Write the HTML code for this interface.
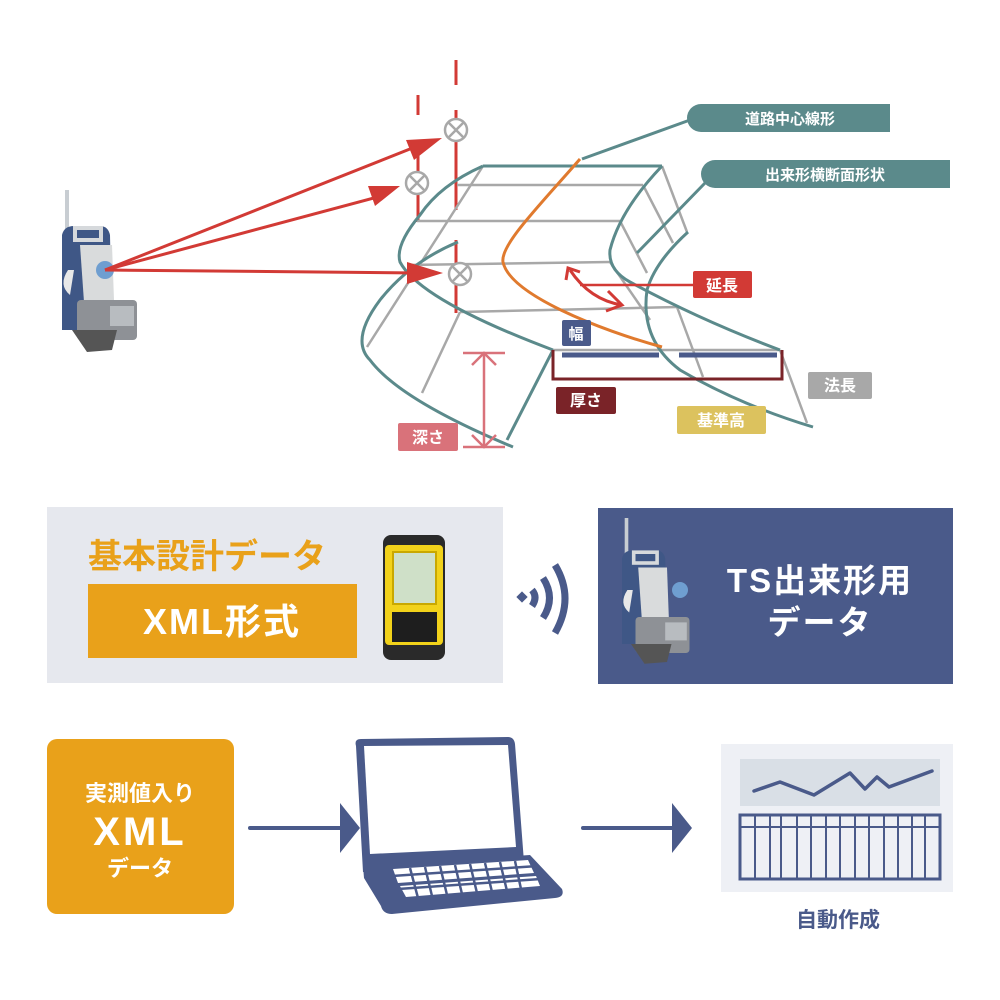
<!DOCTYPE html>
<html><head><meta charset="utf-8"><style>
html,body{margin:0;padding:0;background:#fff}
svg{display:block}
text{font-family:"Liberation Sans","Noto Sans CJK JP",sans-serif;font-weight:bold}
</style></head><body>
<svg width="1000" height="1000" viewBox="0 0 1000 1000" xmlns="http://www.w3.org/2000/svg">
<defs>
<g id="ts">
 <rect x="3" y="0" width="4" height="68" fill="#c8cdd2"/>
 <path d="M0,45 Q2,36 12,36 L38,36 Q46,36 48,45 L50,140 L0,140 Z" fill="#3f5786"/>
 <rect x="13" y="38" width="26" height="12" fill="none" stroke="#d6d9dc" stroke-width="4"/>
 <path d="M18,55 L50,55 L52,110 L22,112 Z" fill="#d9dbdc"/>
 <path d="M6,80 Q-4,95 8,105 L12,80Z" fill="#e8e8e8"/>
 <rect x="15" y="110" width="60" height="40" rx="4" fill="#8e9196"/>
 <rect x="48" y="116" width="24" height="20" fill="#b8bcc0"/>
 <path d="M10,140 L55,140 L50,160 L25,162 Z" fill="#555"/>
</g>
</defs>

<!-- instrument left -->
<g transform="translate(62,190)"><use href="#ts"/></g>
<circle cx="105" cy="270" r="9" fill="#6f9ed0"/>

<!-- red poles -->
<g stroke-width="3">
 <line x1="418" y1="95" x2="418" y2="222" stroke="#d23a35"/>
 <line x1="418" y1="115" x2="418" y2="140" stroke="#fff"/>
 <line x1="456" y1="60" x2="456" y2="313" stroke="#d23a35"/>
 <line x1="456" y1="85" x2="456" y2="110" stroke="#fff"/>
 <line x1="456" y1="210" x2="456" y2="240" stroke="#fff"/>
</g>

<!-- gray lines -->
<g stroke="#a8a8a8" stroke-width="2.5" fill="none">
 <line x1="457" y1="185" x2="643" y2="185"/>
 <line x1="417" y1="221" x2="620" y2="221"/>
 <line x1="407" y1="265" x2="610" y2="262"/>
 <line x1="460" y1="312" x2="677" y2="307"/>
 <line x1="553" y1="350" x2="780" y2="350"/>
 <line x1="483" y1="166" x2="367" y2="347"/>
 <line x1="460" y1="312" x2="422" y2="393"/>
 <line x1="662" y1="166" x2="687" y2="232"/>
 <line x1="643" y1="185" x2="673" y2="243"/>
 <line x1="620" y1="221" x2="647" y2="273"/>
 <line x1="610" y1="262" x2="650" y2="320"/>
 <line x1="677" y1="307" x2="703" y2="377"/>
 <line x1="780" y1="350" x2="807" y2="423"/>
</g>

<!-- teal curves -->
<g stroke="#5b8a8b" stroke-width="3" fill="none">
 <path d="M483,166 L662,166"/>
 <path d="M483,166 Q440,185 420,215 Q395,245 400,262 Q420,300 553,350"/>
 <path d="M458,242 Q410,262 380,300 Q350,340 370,360 Q400,400 513,447"/>
 <line x1="553" y1="350" x2="507" y2="440"/>
 <path d="M662,166 Q620,210 610,250 Q608,270 630,282 Q700,320 780,350"/>
 <path d="M688,232 Q655,262 647,290 Q640,340 680,370 Q740,405 813,427"/>
 <line x1="582" y1="159" x2="690" y2="120"/>
 <line x1="637" y1="253" x2="705" y2="183"/>
</g>
<!-- orange -->
<path d="M580,159 C540,205 500,245 503,262 C510,295 600,330 662,347" stroke="#e07a2e" stroke-width="3" fill="none"/>

<!-- targets -->
<g stroke="#a8a8a8" stroke-width="2.5" fill="#fff">
 <circle cx="456" cy="130" r="11"/><path d="M448,122 L464,138 M464,122 L448,138"/>
 <circle cx="417" cy="183" r="11"/><path d="M409,175 L425,191 M425,175 L409,191"/>
 <circle cx="460" cy="274" r="11"/><path d="M452,266 L468,282 M468,266 L452,282"/>
</g>

<!-- red rays -->
<g stroke="#d23a35" stroke-width="3" fill="#d23a35">
 <line x1="105" y1="270" x2="420" y2="145"/>
 <polygon points="442,138 406,140 414,160" stroke="none"/>
 <line x1="105" y1="270" x2="385" y2="195"/>
 <polygon points="400,186 368,186 375,206" stroke="none"/>
 <line x1="105" y1="270" x2="420" y2="273"/>
 <polygon points="443,273 407,262 407,284" stroke="none"/>
</g>

<!-- 延長 arrow -->
<path d="M570,270 Q590,300 622,305" stroke="#d23a35" stroke-width="3" fill="none"/>
<path d="M566,280 L568,268 L580,272 M608,291 L622,305 L606,311" stroke="#d23a35" stroke-width="3" fill="none"/>
<line x1="580" y1="285" x2="693" y2="285" stroke="#d23a35" stroke-width="2.5"/>

<!-- blue bars & bracket -->
<line x1="562" y1="355" x2="659" y2="355" stroke="#4a5a8a" stroke-width="5"/>
<line x1="679" y1="355" x2="777" y2="355" stroke="#4a5a8a" stroke-width="5"/>
<path d="M553,350 L553,379 L782,379 L782,350" stroke="#7a2328" stroke-width="3" fill="none"/>

<!-- depth -->
<g stroke="#d9727a" stroke-width="2.5" fill="none">
 <line x1="463" y1="353" x2="505" y2="353"/>
 <line x1="463" y1="447" x2="505" y2="447"/>
 <line x1="484" y1="353" x2="484" y2="447"/>
 <path d="M472,365 L484,353 L496,365 M472,435 L484,447 L496,435"/>
</g>

<!-- labels -->
<path d="M701,104 L890,104 L890,132 L701,132 A14,14 0 0 1 701,104Z" fill="#5b8a8b"/>
<text x="790" y="124" fill="#fff" font-size="15" text-anchor="middle">道路中心線形</text>
<path d="M715,160 L950,160 L950,188 L715,188 A14,14 0 0 1 715,160Z" fill="#5b8a8b"/>
<text x="825" y="180" fill="#fff" font-size="15" text-anchor="middle">出来形横断面形状</text>
<rect x="693" y="271" width="59" height="27" rx="2" fill="#d23a35"/>
<text x="722" y="291" fill="#fff" font-size="16" text-anchor="middle">延長</text>
<rect x="562" y="320" width="29" height="26" rx="2" fill="#4a5a8a"/>
<text x="576" y="339" fill="#fff" font-size="15" text-anchor="middle">幅</text>
<rect x="556" y="387" width="60" height="27" rx="2" fill="#7a2328"/>
<text x="586" y="406" fill="#fff" font-size="16" text-anchor="middle">厚さ</text>
<rect x="677" y="406" width="89" height="28" rx="2" fill="#dcc25e"/>
<text x="721" y="426" fill="#fff" font-size="16" text-anchor="middle">基準高</text>
<rect x="808" y="372" width="64" height="27" rx="2" fill="#a8a8a8"/>
<text x="840" y="391" fill="#fff" font-size="16" text-anchor="middle">法長</text>
<rect x="398" y="423" width="60" height="28" rx="2" fill="#d9727a"/>
<text x="428" y="443" fill="#fff" font-size="16" text-anchor="middle">深さ</text>

<!-- middle left panel -->
<rect x="47" y="507" width="456" height="176" fill="#e6e8ee"/>
<text x="88" y="568" fill="#e9a11a" font-size="34">基本設計データ</text>
<rect x="88" y="584" width="269" height="74" fill="#e9a11a"/>
<text x="222" y="634" fill="#fff" font-size="36" text-anchor="middle" letter-spacing="2">XML形式</text>
<!-- PDA -->
<rect x="383" y="535" width="62" height="125" rx="8" fill="#2a2a2a"/>
<rect x="385" y="545" width="58" height="100" rx="4" fill="#f2d21a"/>
<rect x="393" y="552" width="43" height="52" fill="#cfe0c8" stroke="#c9a800" stroke-width="2"/>
<rect x="392" y="612" width="45" height="30" fill="#1e1e1e"/>

<!-- wifi -->
<g stroke="#4a5a8a" stroke-width="7" fill="none">
 <path d="M532,590 Q538,597 532,606"/>
 <path d="M543,578 Q556,598 543,618"/>
 <path d="M555,565 Q575,598 555,633"/>
</g>
<rect x="518" y="593" width="8" height="8" fill="#4a5a8a" transform="rotate(45 522 597)"/>

<!-- middle right panel -->
<rect x="598" y="508" width="355" height="176" fill="#4a5a8a"/>
<g transform="translate(622,518) scale(0.9)"><use href="#ts"/></g>
<circle cx="680" cy="590" r="8" fill="#6f9ed0"/>
<text x="820" y="592" fill="#fff" font-size="33" text-anchor="middle" letter-spacing="2">TS出来形用</text>
<text x="820" y="634" fill="#fff" font-size="33" text-anchor="middle" letter-spacing="2">データ</text>

<!-- bottom orange -->
<rect x="47" y="739" width="187" height="175" rx="10" fill="#e9a11a"/>
<text x="140" y="801" fill="#fff" font-size="22" text-anchor="middle">実測値入り</text>
<text x="140" y="845" fill="#fff" font-size="40" text-anchor="middle" letter-spacing="3">XML</text>
<text x="140" y="876" fill="#fff" font-size="22" text-anchor="middle">データ</text>

<!-- arrows -->
<line x1="250" y1="828" x2="340" y2="828" stroke="#4a5a8a" stroke-width="4" stroke-linecap="round"/>
<polygon points="340,803 340,853 360,828" fill="#4a5a8a"/>
<line x1="583" y1="828" x2="672" y2="828" stroke="#4a5a8a" stroke-width="4" stroke-linecap="round"/>
<polygon points="672,803 672,853 692,828" fill="#4a5a8a"/>

<!-- laptop -->
<path d="M356,746 Q354,739 361,739 L508,737 Q514,737 515,744 L524,862 L363,872 Z" fill="#4a5a8a"/>
<polygon points="364,746 508,745 516,847 370,854" fill="#fff"/>
<path d="M363,866 L530,855 L562,889 Q565,897 555,898 L392,914 Q383,914 381,906 L364,878 Z" fill="#4a5a8a"/>
<g fill="#fff">
 <polygon points="393,869 528,860 534,873 398,883"/>
 <polygon points="400,886 536,876 540,886 406,897"/>
</g>
<g stroke="#4a5a8a" stroke-width="2.5">
 <line x1="392" y1="876" x2="538" y2="866"/>
 <line x1="398" y1="889" x2="541" y2="879"/>
 <path d="M410,868 L418,898 M425,867 L432,896 M440,866 L447,895 M455,865 L462,894 M470,864 L477,893 M485,863 L492,892 M500,862 L507,891 M515,861 L521,889"/>
</g>

<!-- report -->
<rect x="721" y="744" width="232" height="148" fill="#eef0f5"/>
<rect x="740" y="759" width="200" height="47" fill="#d9dfe6"/>
<polyline points="754,791 780,782 814,795 850,773 865,789 877,777 889,787 932,771" stroke="#4a5a8a" stroke-width="3.5" fill="none" stroke-linejoin="round" stroke-linecap="round"/>
<rect x="740" y="815" width="200" height="64" fill="none" stroke="#4a5a8a" stroke-width="3"/>
<line x1="740" y1="827" x2="940" y2="827" stroke="#4a5a8a" stroke-width="2"/>
<g stroke="#4a5a8a" stroke-width="2">
 <path d="M755,815V879 M770,815V879 M781,815V879 M797,815V879 M811,815V879 M826,815V879 M840,815V879 M855,815V879 M869,815V879 M884,815V879 M898,815V879 M912,815V879 M925,815V879"/>
</g>
<text x="838" y="927" fill="#4a5a8a" font-size="21" text-anchor="middle">自動作成</text>
</svg>
</body></html>
